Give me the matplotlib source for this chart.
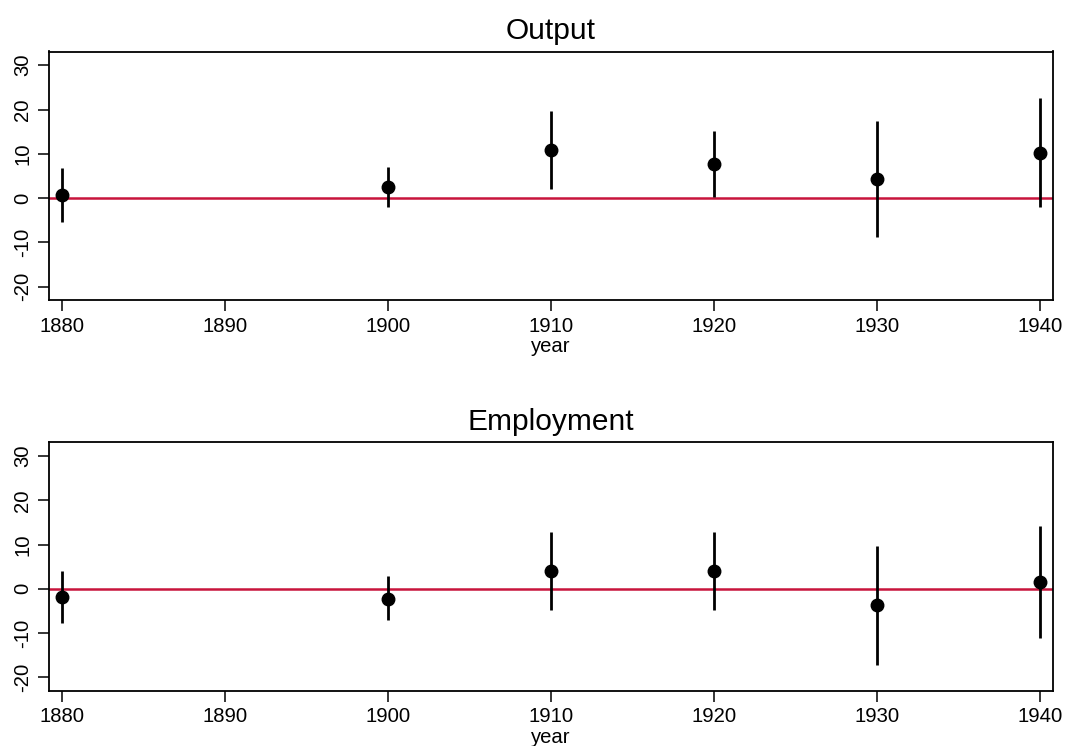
import matplotlib
matplotlib.use("Agg")
import matplotlib.pyplot as plt

plt.rcParams['font.family'] = ['Liberation Sans', 'DejaVu Sans']

years = [1880, 1900, 1910, 1920, 1930, 1940]

output_est = [0.7, 2.6, 10.8, 7.7, 4.4, 10.2]
output_lo = [-5.3, -2.0, 2.0, 0.15, -8.7, -2.0]
output_hi = [6.7, 7.1, 19.6, 15.1, 17.4, 22.5]

employment_est = [-1.8, -2.2, 4.0, 4.0, -3.7, 1.6]
employment_lo = [-7.8, -7.1, -4.8, -4.8, -17.1, -11.0]
employment_hi = [4.1, 2.9, 12.9, 12.9, 9.6, 14.2]

panel_titles = ["Output", "Employment"]
xticks = [1880, 1890, 1900, 1910, 1920, 1930, 1940]
yticks = [-20, -10, 0, 10, 20, 30]

W, H = 1066, 746
fig = plt.figure(figsize=(W / 100, H / 100), dpi=100)

panels = [
    (output_est, output_lo, output_hi, 51.5, 300),
    (employment_est, employment_lo, employment_hi, 442.3, 690.7),
]

for (est, lo, hi, top, bot), title in zip(panels, panel_titles):
    ax = fig.add_axes([49 / W, (H - bot) / H, 1004 / W, (bot - top) / H])
    ax.axhline(0, color='#C8143C', lw=1.8, zorder=1)
    for x, l, h in zip(years, lo, hi):
        ax.plot([x, x], [l, h], color='black', lw=2, solid_capstyle='butt', zorder=2)
    ax.plot(years, est, 'o', color='black', markersize=9, zorder=3)
    ax.set_xlim(1879.18, 1940.8)
    ax.set_ylim(-23.0, 33.1)
    ax.set_xticks(xticks)
    ax.set_yticks(yticks)
    ax.set_yticklabels([str(v) for v in yticks], rotation=90, va='center')
    ax.tick_params(axis='both', labelsize=14.6, length=8, width=1.1, pad=4, colors='black')
    for s in ax.spines.values():
        s.set_linewidth(1.3)
    ax.set_xlabel("year", fontsize=14.6, labelpad=1)
    ax.set_title(title, fontsize=21.5, pad=9)

fig.savefig("out.png", dpi=100, facecolor='white')
